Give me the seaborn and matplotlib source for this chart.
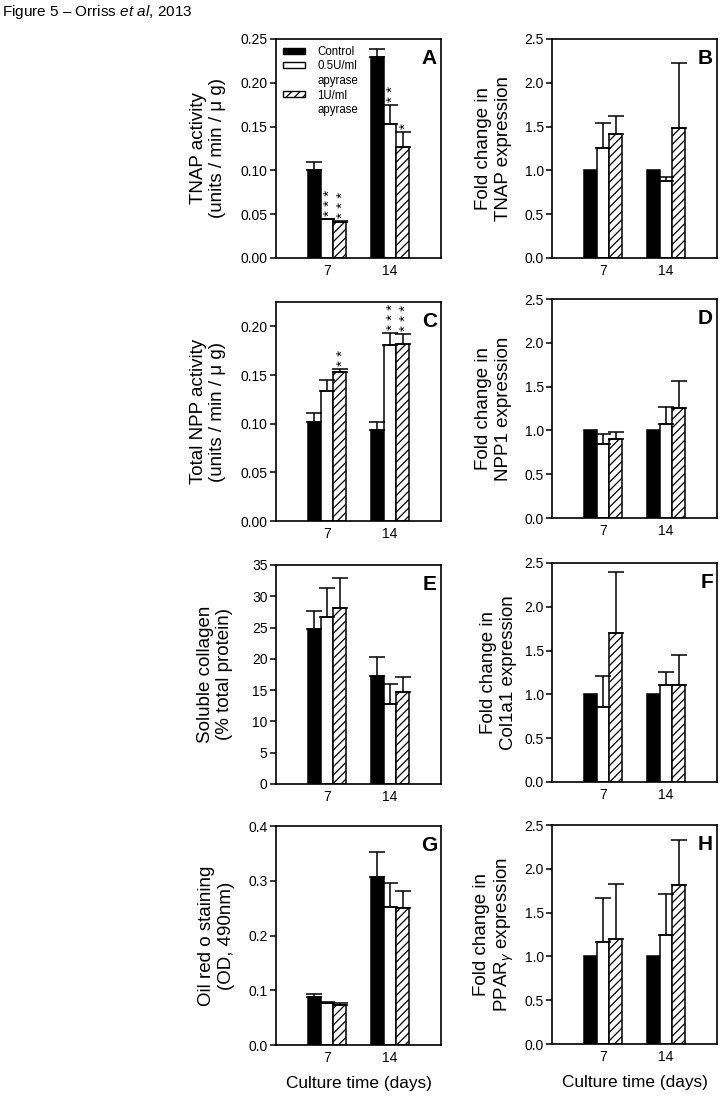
import numpy as np
import pandas as pd
import matplotlib
matplotlib.use("Agg")
import matplotlib.pyplot as plt
import seaborn as sns
from matplotlib.patches import Patch
from matplotlib.ticker import MultipleLocator, FormatStrFormatter

# ------------------------------------------------------------------
# data (per treatment: [day 7, day 14]); errors are upper SEM
# ------------------------------------------------------------------
days = ["7", "14"]
treatments = ["Control", "0.5U/ml apyrase", "1U/ml apyrase"]

tnap_act = [[0.101, 0.229], [0.044, 0.153], [0.041, 0.127]]
tnap_act_err = [[0.009, 0.010], [0.001, 0.022], [0.001, 0.017]]
tnap_expr = [[1.0, 1.0], [1.25, 0.88], [1.41, 1.48]]
tnap_expr_err = [[0.0, 0.0], [0.29, 0.04], [0.21, 0.75]]
npp_act = [[0.102, 0.094], [0.134, 0.181], [0.153, 0.182]]
npp_act_err = [[0.009, 0.008], [0.011, 0.012], [0.003, 0.010]]
npp1_expr = [[1.0, 1.0], [0.85, 1.07], [0.90, 1.26]]
npp1_expr_err = [[0.0, 0.0], [0.11, 0.20], [0.08, 0.31]]
collagen = [[24.8, 17.3], [26.7, 12.7], [28.1, 14.7]]
collagen_err = [[2.9, 3.0], [4.6, 3.3], [4.8, 2.4]]
col1a1_expr = [[1.0, 1.0], [0.86, 1.11], [1.70, 1.11]]
col1a1_expr_err = [[0.0, 0.0], [0.35, 0.14], [0.70, 0.34]]
oil_red = [[0.088, 0.306], [0.077, 0.252], [0.073, 0.251]]
oil_red_err = [[0.006, 0.047], [0.001, 0.044], [0.004, 0.030]]
ppar_expr = [[1.0, 1.0], [1.17, 1.25], [1.20, 1.82]]
ppar_expr_err = [[0.0, 0.0], [0.50, 0.46], [0.63, 0.51]]

# significance stars: (treatment index, day index, label)
tnap_act_stars = [(1, 0, "* * *"), (2, 0, "* * *"), (1, 1, "* *"), (2, 1, "*")]
npp_act_stars = [(2, 0, "* *"), (1, 1, "* * *"), (2, 1, "* * *")]

# ------------------------------------------------------------------
sns.set_style("ticks", {"axes.edgecolor": "black", "xtick.color": "black",
                        "ytick.color": "black", "text.color": "black",
                        "axes.labelcolor": "black"})
plt.rcParams["font.family"] = ["Liberation Sans", "DejaVu Sans"]
plt.rcParams["mathtext.fontset"] = "custom"
plt.rcParams["mathtext.rm"] = "Liberation Sans"
plt.rcParams["mathtext.it"] = "Liberation Sans:italic"
plt.rcParams["hatch.linewidth"] = 0.9

HATCH = "////"
fig = plt.figure(figsize=(7.27, 11.02), dpi=100)


def draw_panel(rect, means, errs, ylabel, ymax, step, fmt, letter,
               label_x, stars=(), legend=False, xlabel=None):
    ax = fig.add_axes(rect)
    df = pd.DataFrame({
        "day": [d for t in treatments for d in days],
        "treatment": [t for t in treatments for d in days],
        "value": [v for row in means for v in row],
    })
    sns.barplot(data=df, x="day", y="value", hue="treatment", order=days,
                hue_order=treatments, palette=["black", "white", "white"],
                saturation=1, width=0.6, errorbar=None, edgecolor="black",
                linewidth=1.1, legend=False, ax=ax)
    bar_conts = list(ax.containers)
    for ti, cont in enumerate(bar_conts):
        for bar in cont:
            xc = bar.get_x() + bar.get_width() / 2
            di = int(round(xc))
            if ti == 2:
                bar.set_hatch(HATCH)
            e = errs[ti][di]
            if e > 0:
                ax.errorbar(xc, bar.get_height(), yerr=[[0], [e]], fmt="none",
                            ecolor="black", elinewidth=1.1, capsize=5.5,
                            capthick=1.1, zorder=3)
            for s_t, s_d, s_lab in stars:
                if s_t == ti and s_d == di:
                    ax.annotate(s_lab, (xc, bar.get_height() + e), xytext=(2.5, 2),
                                textcoords="offset points", rotation=90,
                                ha="center", va="bottom", fontsize=11)

    ax.set_xlim(-0.81, 1.81)
    ax.set_ylim(0, ymax)
    ax.yaxis.set_major_locator(MultipleLocator(step))
    ax.yaxis.set_major_formatter(FormatStrFormatter(fmt))
    ax.set_ylabel(ylabel, fontsize=13.5)
    ax.yaxis.set_label_coords(label_x, 0.5)
    ax.set_xlabel(xlabel if xlabel else "", fontsize=12.4, labelpad=8)
    for sp in ax.spines.values():
        sp.set_linewidth(1.2)
    ax.tick_params(axis="y", direction="out", length=4, width=1.1,
                   labelsize=10, pad=2)
    ax.tick_params(axis="x", length=0, labelsize=10, pad=4)
    ax.text(0.975, 0.955, letter, transform=ax.transAxes, ha="right",
            va="top", fontsize=15, fontweight="bold")
    if legend:
        # second word of each treatment goes on its own legend row
        blank = Patch(facecolor="none", edgecolor="none")
        handles = [Patch(facecolor="black", edgecolor="black"),
                   Patch(facecolor="white", edgecolor="black"), blank,
                   Patch(facecolor="white", edgecolor="black", hatch=HATCH), blank]
        labels = []
        for t in treatments:
            labels.extend(t.split(" "))
        ax.legend(handles, labels, loc="upper left", frameon=False,
                  fontsize=8.3, handlelength=1.9, handleheight=0.45,
                  handletextpad=1.1, labelspacing=0.22, borderaxespad=0.3,
                  borderpad=0.3)
    return ax


LW = 165 / 727
LH = 219 / 1102
XL = 276 / 727
XR = 552 / 727

draw_panel([XL, 0.7659, LW, LH], tnap_act, tnap_act_err,
           "TNAP activity\n(units / min / μ g)", 0.25, 0.05, "%.2f", "A",
           -0.30, stars=tnap_act_stars, legend=True)
draw_panel([XR, 0.7659, LW, LH], tnap_expr, tnap_expr_err,
           "Fold change in\nTNAP expression", 2.5, 0.5, "%.1f", "B", -0.242)
draw_panel([XL, 0.5272, LW, LH], npp_act, npp_act_err,
           "Total NPP activity\n(units / min / μ g)", 0.225, 0.05, "%.2f", "C",
           -0.30, stars=npp_act_stars)
draw_panel([XR, 0.5299, LW, LH], npp1_expr, npp1_expr_err,
           "Fold change in\nNPP1 expression", 2.5, 0.5, "%.1f", "D", -0.242)
draw_panel([XL, 0.2886, LW, LH], collagen, collagen_err,
           "Soluble collagen\n(% total protein)", 35, 5, "%d", "E", -0.26)
draw_panel([XR, 0.2904, LW, LH], col1a1_expr, col1a1_expr_err,
           "Fold change in\nCol1a1 expression", 2.5, 0.5, "%.1f", "F", -0.212)
draw_panel([XL, 0.0517, LW, LH], oil_red, oil_red_err,
           "Oil red o staining\n(OD, 490nm)", 0.4, 0.1, "%.1f", "G", -0.248,
           xlabel="Culture time (days)")
draw_panel([XR, 0.0526, LW, LH], ppar_expr, ppar_expr_err,
           "Fold change in\nPPAR$_{\\gamma}$ expression", 2.5, 0.5, "%.1f", "H",
           -0.218, xlabel="Culture time (days)")

fig.text(0.003, 0.989, "Figure 5 – Orriss $\\it{et\\ al}$, 2013", fontsize=11,
         ha="left", va="center")

fig.savefig("out.png", dpi=100)
